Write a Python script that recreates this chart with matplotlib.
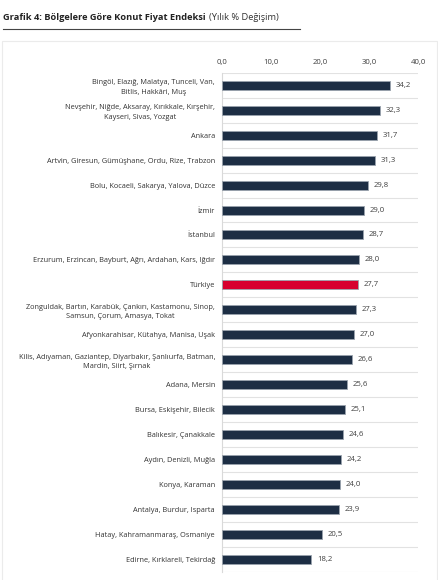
import matplotlib
matplotlib.use("Agg")
import matplotlib.pyplot as plt
from matplotlib.patches import Rectangle
from matplotlib.lines import Line2D
import numpy as np

plt.rcParams['font.family'] = ['Open Sans', 'DejaVu Sans']

categories = [
    "Bingöl, Elazığ, Malatya, Tunceli, Van,\nBitlis, Hakkâri, Muş",
    "Nevşehir, Niğde, Aksaray, Kırıkkale, Kırşehir,\nKayseri, Sivas, Yozgat",
    "Ankara",
    "Artvin, Giresun, Gümüşhane, Ordu, Rize, Trabzon",
    "Bolu, Kocaeli, Sakarya, Yalova, Düzce",
    "İzmir",
    "İstanbul",
    "Erzurum, Erzincan, Bayburt, Ağrı, Ardahan, Kars, Iğdır",
    "Türkiye",
    "Zonguldak, Bartın, Karabük, Çankırı, Kastamonu, Sinop,\nSamsun, Çorum, Amasya, Tokat",
    "Afyonkarahisar, Kütahya, Manisa, Uşak",
    "Kilis, Adıyaman, Gaziantep, Diyarbakır, Şanlıurfa, Batman,\nMardin, Siirt, Şırnak",
    "Adana, Mersin",
    "Bursa, Eskişehir, Bilecik",
    "Balıkesir, Çanakkale",
    "Aydın, Denizli, Muğla",
    "Konya, Karaman",
    "Antalya, Burdur, Isparta",
    "Hatay, Kahramanmaraş, Osmaniye",
    "Edirne, Kırklareli, Tekirdağ",
]
values = [34.2, 32.3, 31.7, 31.3, 29.8, 29.0, 28.7, 28.0, 27.7, 27.3,
          27.0, 26.6, 25.6, 25.1, 24.6, 24.2, 24.0, 23.9, 20.5, 18.2]
highlight = "Türkiye"
xticks = [0, 10, 20, 30, 40]
xticklabels = ["0,0", "10,0", "20,0", "30,0", "40,0"]

W, H = 438, 580
fig = plt.figure(figsize=(W / 100, H / 100), dpi=100)
fig.patch.set_facecolor("white")

ax = fig.add_axes([222 / W, 1 - 572 / H, 196 / W, (572 - 72.7) / H])

navy = "#1d2e44"
red = "#d7002f"
colors = [red if c == highlight else navy for c in categories]
y = np.arange(len(categories))
ax.barh(y, values, height=0.36, color=colors, edgecolor="#9aa3ad", linewidth=0.6, zorder=3)

for yi, v in zip(y, values):
    ax.text(v + 1.15, yi, f"{v:.1f}".replace(".", ","), va="center", ha="left",
            fontsize=5.6, color="#404040")

ax.set_ylim(len(categories) - 0.5, -0.5)
ax.set_xlim(0, 40)
ax.set_yticks(y)
ax.set_yticklabels(categories, fontsize=5.3, color="#333333", linespacing=1.5,
                   multialignment="center")
ax.set_yticks(np.arange(-0.5, len(categories), 1.0), minor=True)
ax.tick_params(axis="y", which="both", length=0, pad=5)
ax.grid(axis="y", which="minor", color="#e2e2e2", linewidth=0.8, zorder=0)
ax.xaxis.tick_top()
ax.set_xticks(xticks)
ax.set_xticklabels(xticklabels, fontsize=5.6, color="#404040")
ax.tick_params(axis="x", length=0, pad=5)
for s in ["top", "right", "bottom"]:
    ax.spines[s].set_visible(False)
ax.spines["left"].set_color("#d9d9d9")
ax.spines["left"].set_linewidth(0.8)

# outer frame
fig.add_artist(Rectangle((2 / W, -0.01), (437 - 2) / W, 1 - 41 / H + 0.01,
                         transform=fig.transFigure, fill=False,
                         edgecolor="#ebebeb", linewidth=0.8))

# title
t1 = fig.text(3 / W, 1 - 17 / H, "Grafik 4: Bölgelere Göre Konut Fiyat Endeksi",
              fontsize=6.65, fontweight="bold", color="#222222", va="center", ha="left")
r = fig.canvas.get_renderer()
bb = t1.get_window_extent(renderer=r)
fig.text((bb.x1 + 3) / W, 1 - 17 / H, "(Yılık % Değişim)", fontsize=6.65,
         color="#333333", va="center", ha="left")
fig.add_artist(Line2D([3 / W, 300 / W], [1 - 29 / H, 1 - 29 / H],
                      transform=fig.transFigure, color="#444444", linewidth=0.8))

fig.savefig("out.png", dpi=100, facecolor="white")
